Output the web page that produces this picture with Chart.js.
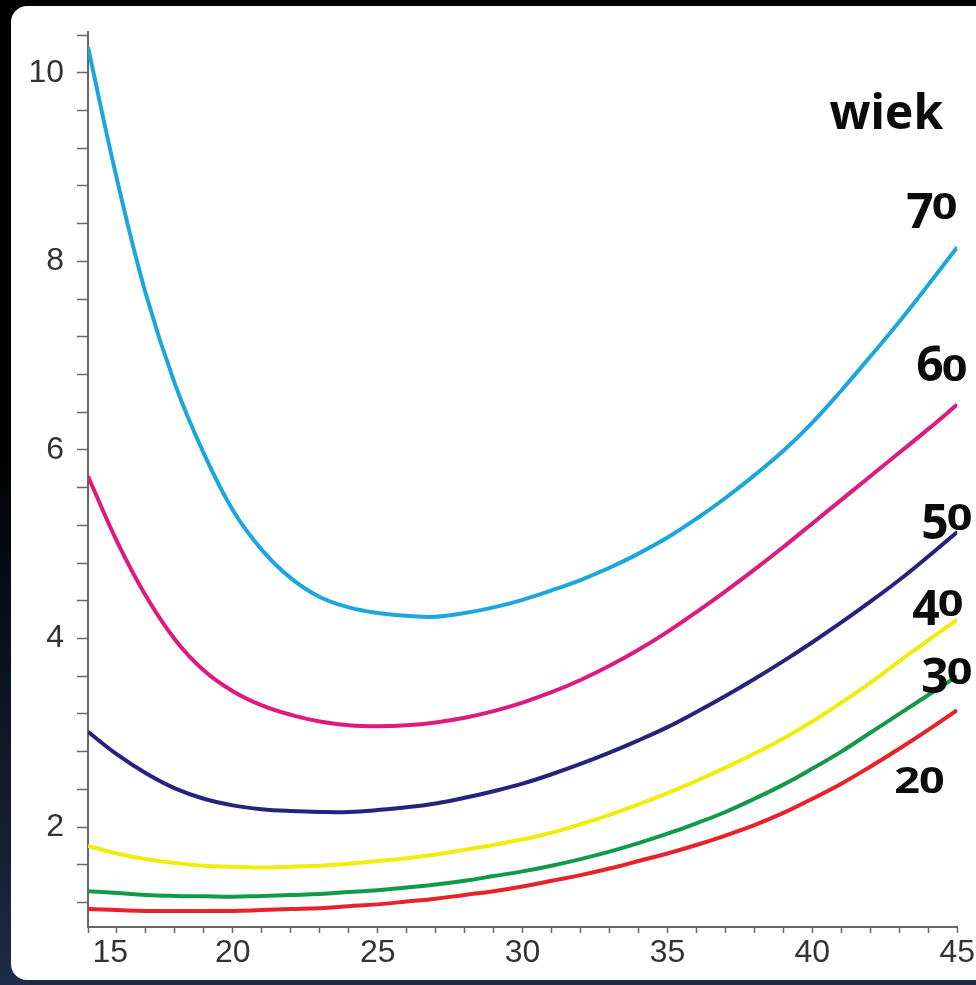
<!DOCTYPE html>
<html>
<head>
<meta charset="utf-8">
<script src="https://cdn.jsdelivr.net/npm/chart.js@4"></script>
<style>
  html, body { margin: 0; padding: 0; }
  body {
    width: 976px; height: 985px; overflow: hidden; position: relative;
    background: linear-gradient(180deg, #000 0%, #000 45%, #1d2b47 100%);
  }
  .panel {
    position: absolute; left: 11px; top: 6px; width: 1000px; height: 974px;
    background: #fff; border-radius: 16px;
  }
  .wrap { position: absolute; left: 0; top: 0; width: 976px; height: 985px; }
</style>
</head>
<body>
<div class="panel"></div>
<div class="wrap"><canvas id="chart"></canvas></div>
<script>
const ages = [15, 16, 17, 18, 19, 20, 21, 22, 23, 24, 25, 26, 27, 28, 29, 30,
  31, 32, 33, 34, 35, 36, 37, 38, 39, 40, 41, 42, 43, 44, 45];

const wiek70 = [10.27, 8.87, 7.65, 6.70, 5.96, 5.36, 4.94, 4.64, 4.44, 4.33, 4.27, 4.24, 4.23, 4.27, 4.33, 4.41,
  4.51, 4.62, 4.75, 4.90, 5.07, 5.27, 5.49, 5.73, 5.99, 6.29, 6.63, 6.99, 7.36, 7.75, 8.15];
const wiek60 = [5.72, 5.03, 4.45, 3.99, 3.66, 3.44, 3.29, 3.19, 3.12, 3.08, 3.07, 3.08, 3.11, 3.16, 3.23, 3.32,
  3.43, 3.56, 3.71, 3.88, 4.07, 4.28, 4.50, 4.73, 4.97, 5.22, 5.47, 5.72, 5.97, 6.22, 6.48];
const wiek50 = [3.01, 2.77, 2.57, 2.41, 2.30, 2.23, 2.19, 2.17, 2.16, 2.16, 2.18, 2.21, 2.25, 2.31, 2.38, 2.46,
  2.56, 2.67, 2.79, 2.92, 3.06, 3.22, 3.39, 3.57, 3.76, 3.96, 4.17, 4.39, 4.62, 4.87, 5.13];
const wiek40 = [1.80, 1.72, 1.66, 1.62, 1.59, 1.58, 1.57, 1.58, 1.59, 1.61, 1.64, 1.67, 1.71, 1.76, 1.81, 1.87,
  1.94, 2.03, 2.13, 2.24, 2.36, 2.49, 2.63, 2.78, 2.94, 3.12, 3.32, 3.53, 3.76, 3.98, 4.20];
const wiek30 = [1.32, 1.30, 1.28, 1.27, 1.265, 1.26, 1.27, 1.28, 1.29, 1.31, 1.33, 1.36, 1.39, 1.43, 1.48, 1.53,
  1.59, 1.66, 1.74, 1.83, 1.93, 2.04, 2.16, 2.30, 2.45, 2.62, 2.80, 3.00, 3.20, 3.40, 3.60];
const wiek20 = [1.13, 1.12, 1.11, 1.11, 1.11, 1.11, 1.12, 1.13, 1.14, 1.16, 1.18, 1.21, 1.24, 1.28, 1.32, 1.37,
  1.43, 1.49, 1.56, 1.64, 1.72, 1.81, 1.91, 2.02, 2.15, 2.30, 2.46, 2.64, 2.83, 3.03, 3.24];

const seriesNames = ["70", "60", "50", "40", "30", "20"];
const xTickLabels = [15, 20, 25, 30, 35, 40, 45];
const yTickLabels = [2, 4, 6, 8, 10];

const colors = ["#1ba7dc", "#dc1a80", "#26237f", "#f2ec0c", "#139a49", "#e8212b"];
const series = [wiek70, wiek60, wiek50, wiek40, wiek30, wiek20];

const toPoints = (vals) => ages.map((a, i) => ({ x: a, y: vals[i] }));

// label anchors in data units: [x, baseline y]
const labelAnchors = {
  "wiek": [40.59, 9.40],
  "70": [43.24, 8.45],
  "60": [43.59, 6.73],
  "50": [43.76, 5.15],
  "40": [43.45, 4.24],
  "30": [43.76, 3.52],
  "20": [42.83, 2.36],
};

// old-style figures: 0-2 at x-height, 3 4 5 7 9 hang below baseline
function drawOldstyle(ctx, text, x, y) {
  for (const ch of text) {
    ctx.save();
    if ("012".includes(ch)) {
      ctx.font = "bold 36px 'Noto Sans'";
      const w = ctx.measureText(ch).width;
      ctx.translate(x, y);
      ctx.scale(1.25, 1);
      ctx.fillText(ch, 0, 0);
      x += w * 1.25 - 1;
    } else {
      ctx.font = "bold 48px 'Noto Sans'";
      const dy = "34579".includes(ch) ? 9 : 0;
      ctx.fillText(ch, x, y + dy);
      x += ctx.measureText(ch).width - 2;
    }
    ctx.restore();
  }
}

const ageLabels = {
  id: "ageLabels",
  afterDatasetsDraw(chart) {
    const { ctx, scales } = chart;
    ctx.save();
    ctx.fillStyle = "#0b0b0b";
    ctx.textAlign = "left";
    ctx.textBaseline = "alphabetic";
    const w = labelAnchors["wiek"];
    ctx.font = "bold 48px 'Noto Sans'";
    ctx.fillText("wiek", scales.x.getPixelForValue(w[0]), scales.y.getPixelForValue(w[1]));
    seriesNames.forEach((name) => {
      const a = labelAnchors[name];
      drawOldstyle(ctx, name, scales.x.getPixelForValue(a[0]), scales.y.getPixelForValue(a[1]));
    });
    ctx.restore();
  },
};

const axisColor = "#666";
const tickFont = { family: "'Liberation Sans', Arial, sans-serif", size: 32 };

new Chart(document.getElementById("chart"), {
  type: "line",
  data: {
    datasets: series.map((vals, i) => ({
      label: seriesNames[i],
      data: toPoints(vals),
      borderColor: colors[i],
      borderWidth: 4,
      pointRadius: 0,
      tension: 0.4,
      fill: false,
    })),
  },
  options: {
    responsive: true,
    maintainAspectRatio: false,
    animation: false,
    layout: { padding: { left: 30, top: 25, right: 18, bottom: 10 } },
    plugins: {
      legend: { display: false },
      tooltip: { enabled: false },
    },
    scales: {
      x: {
        type: "linear",
        min: 15,
        max: 45,
        afterFit: (s) => { s.height = 48; },
        border: { color: axisColor, width: 2 },
        grid: { drawOnChartArea: false, tickLength: 6, tickColor: axisColor, tickWidth: 1.5 },
        ticks: {
          stepSize: 1,
          autoSkip: false,
          maxRotation: 0,
          padding: 1,
          color: "#333",
          font: tickFont,
          callback: (v) => {
            if (!xTickLabels.includes(v)) return "";
            return v === 15 ? "     15" : String(v);
          },
        },
      },
      y: {
        type: "linear",
        min: 0.94,
        max: 10.43,
        afterFit: (s) => { s.width = 58; },
        border: { color: axisColor, width: 2 },
        grid: { drawOnChartArea: false, tickLength: 11, tickColor: axisColor, tickWidth: 1.5 },
        ticks: {
          stepSize: 0.4,
          includeBounds: false,
          autoSkip: false,
          padding: 13,
          color: "#333",
          font: tickFont,
          callback: (v) => {
            const r = Math.round(v);
            return Math.abs(v - r) < 1e-6 && yTickLabels.includes(r) ? String(r) : "";
          },
        },
      },
    },
  },
  plugins: [ageLabels],
});
</script>
</body>
</html>
